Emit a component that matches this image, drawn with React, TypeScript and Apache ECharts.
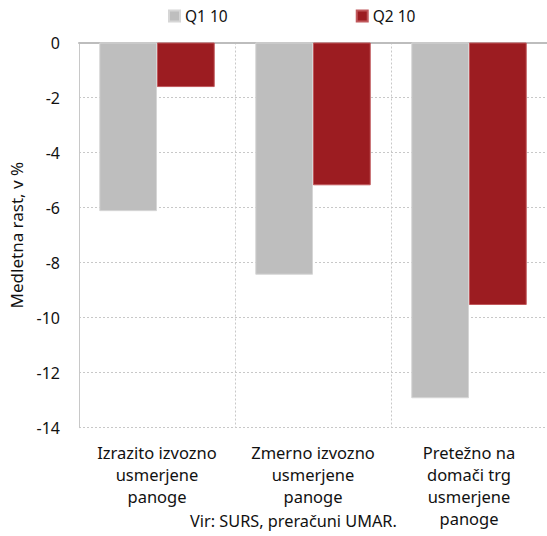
import React, { useEffect, useRef } from "react";
import * as echarts from "echarts";

const categories = [
  "Izrazito izvozno\nusmerjene\npanoge",
  "Zmerno izvozno\nusmerjene\npanoge",
  "Pretežno na\ndomači trg\nusmerjene\npanoge",
];
const seriesNames = ["Q1 10", "Q2 10"];
const q1Values = [-6.13, -8.44, -12.93];
const q2Values = [-1.62, -5.19, -9.54];
const yMin = -14;
const yMax = 0;
const yInterval = 2;
const yAxisName = "Medletna rast, v %";
const sourceText = "Vir: SURS, preračuni UMAR.";

const FONT = "'Noto Sans', sans-serif";
const TEXT = "#111111";
const GRAY = "#bebebe";
const RED = "#9c1c21";

export default function App() {
  const ref = useRef<HTMLDivElement>(null);
  useEffect(() => {
    if (!ref.current) return;
    const chart = echarts.init(ref.current, undefined, { renderer: "svg" });
    chart.setOption({
      animation: false,
      backgroundColor: "#ffffff",
      textStyle: { fontFamily: FONT },
      legend: {
        data: seriesNames,
        left: 168,
        top: 8,
        padding: 0,
        itemWidth: 11,
        itemHeight: 11,
        itemGap: 128,
        icon: "rect",
        textStyle: { fontFamily: FONT, fontSize: 15.5, color: TEXT },
      },
      grid: { left: 72, top: 42.5, width: 480, height: 385.2, containLabel: false },
      xAxis: [
        {
          type: "category",
          data: categories,
          position: "bottom",
          axisLine: { show: false },
          axisTick: { show: false },
          axisLabel: {
            interval: 0,
            margin: 14,
            fontFamily: FONT,
            fontSize: 16.5,
            lineHeight: 22,
            color: TEXT,
            align: "center",
          },
          splitLine: {
            show: true,
            interval: 0,
            lineStyle: { color: "#c8c8c8", type: [2, 2], width: 1 },
          },
        },
        {
          type: "category",
          data: categories,
          position: "top",
          axisLine: { show: true, lineStyle: { color: "#bdbdbd", width: 2 } },
          axisTick: { show: false },
          axisLabel: { show: false },
          splitLine: { show: false },
        },
      ],
      yAxis: {
        type: "value",
        min: yMin,
        max: yMax,
        interval: yInterval,
        name: yAxisName,
        nameLocation: "middle",
        nameGap: 54,
        nameRotate: 90,
        nameTextStyle: { fontFamily: FONT, fontSize: 17, color: TEXT },
        axisLine: { show: true, onZero: false, lineStyle: { color: "#c8c8c8", width: 1 } },
        axisTick: { show: false },
        axisLabel: { fontFamily: FONT, fontSize: 16, color: TEXT, margin: 19 },
        splitLine: { show: true, lineStyle: { color: "#c8c8c8", type: [2, 2], width: 1 } },
      },
      series: [
        {
          name: seriesNames[0],
          type: "bar",
          data: q1Values,
          barGap: "0%",
          barCategoryGap: "26%",
          itemStyle: { color: GRAY, borderColor: "#d6d6d6", borderWidth: 1 },
        },
        {
          name: seriesNames[1],
          type: "bar",
          data: q2Values,
          barGap: "0%",
          barCategoryGap: "26%",
          itemStyle: { color: RED, borderColor: "#c0585c", borderWidth: 1 },
        },
      ],
      graphic: [
        {
          type: "text",
          left: 190,
          top: 513,
          style: { text: sourceText, fontFamily: FONT, fontSize: 16.3, fill: TEXT },
        },
      ],
    });
    return () => chart.dispose();
  }, []);
  return (
    <div
      ref={ref}
      style={{ position: "fixed", left: 0, top: 0, width: 547, height: 536, overflow: "hidden" }}
    />
  );
}
